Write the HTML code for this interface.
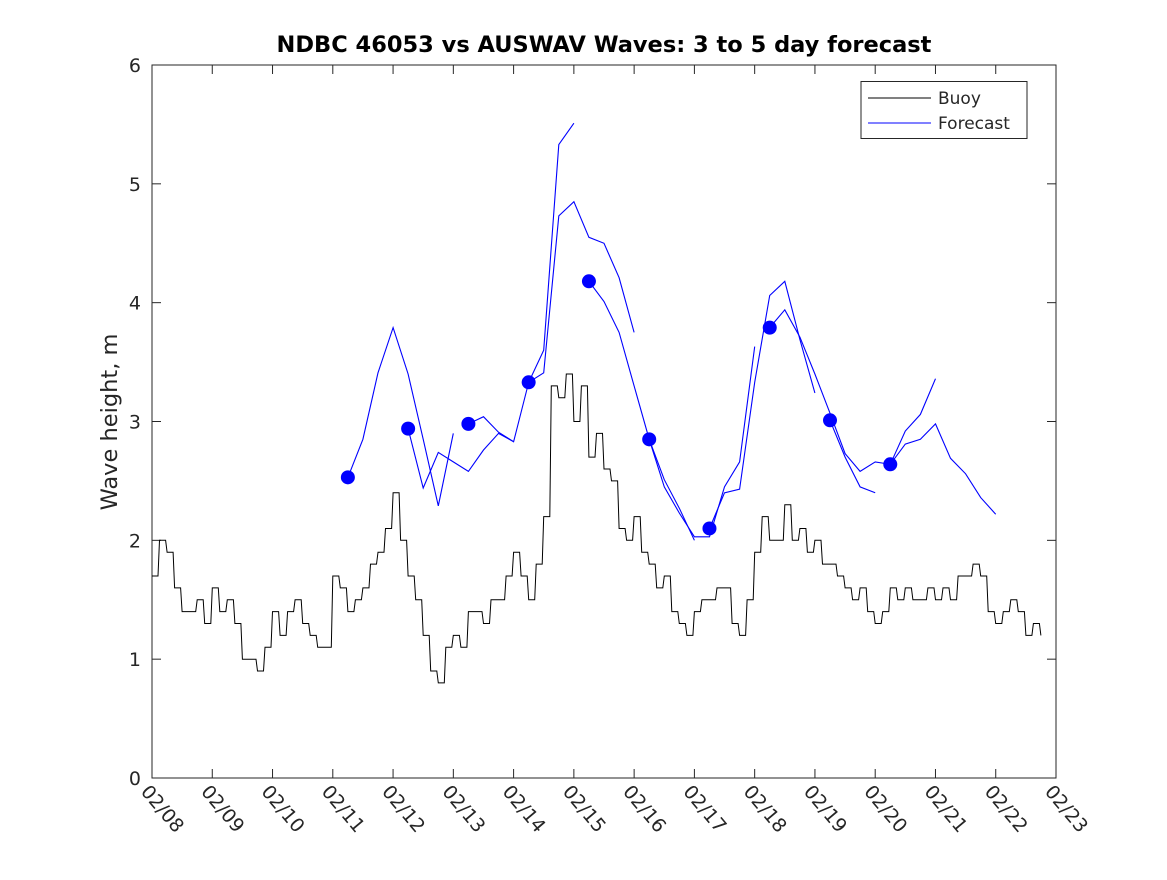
<!DOCTYPE html>
<html><head><meta charset="utf-8"><style>
html,body{margin:0;padding:0;background:#fff;}
svg text{font-family:"DejaVu Sans","Liberation Sans",sans-serif;fill:#262626;}
</style></head><body>
<svg id="chart" width="1167" height="875" viewBox="0 0 1167 875" xmlns="http://www.w3.org/2000/svg">
<rect x="0" y="0" width="1167" height="875" fill="#fff"/>
<text x="604" y="52" text-anchor="middle" font-size="22.5" font-weight="bold" style="fill:#000">NDBC 46053 vs AUSWAV Waves: 3 to 5 day forecast</text>
<rect x="152" y="65" width="904" height="713" fill="#fff" stroke="#262626" stroke-width="1"/>
<g id="yaxis"></g>
<g id="xaxis"></g>
<text transform="translate(117,422) rotate(-90)" text-anchor="middle" font-size="22.5">Wave height, m</text>
<g id="series"></g>
<g>
<rect x="861" y="81.5" width="166" height="57" fill="#fff" stroke="#262626" stroke-width="1"/>
<line x1="868" y1="98" x2="931" y2="98" stroke="#000" stroke-width="1"/>
<text x="938" y="104" font-size="17">Buoy</text>
<line x1="868" y1="123" x2="931" y2="123" stroke="#0000ff" stroke-width="1"/>
<text x="938" y="129" font-size="17">Forecast</text>
</g>
</svg>
<script>
const xTickLabels = ["02/08","02/09","02/10","02/11","02/12","02/13","02/14","02/15","02/16","02/17","02/18","02/19","02/20","02/21","02/22","02/23"];
const yTickLabels = ["0","1","2","3","4","5","6"];
const buoyStartDay = 8.0;
const buoyStep = 0.125;
const buoyValues = [1.7,2.0,1.9,1.6,1.4,1.4,1.5,1.3,1.6,1.4,1.5,1.3,1.0,1.0,0.9,1.1,1.4,1.2,1.4,1.5,1.3,1.2,1.1,1.1,1.7,1.6,1.4,1.5,1.6,1.8,1.9,2.1,2.4,2.0,1.7,1.5,1.2,0.9,0.8,1.1,1.2,1.1,1.4,1.4,1.3,1.5,1.5,1.7,1.9,1.7,1.5,1.8,2.2,3.3,3.2,3.4,3.0,3.3,2.7,2.9,2.6,2.5,2.1,2.0,2.2,1.9,1.8,1.6,1.7,1.4,1.3,1.2,1.4,1.5,1.5,1.6,1.6,1.3,1.2,1.5,1.9,2.2,2.0,2.0,2.3,2.0,2.1,1.9,2.0,1.8,1.8,1.7,1.6,1.5,1.6,1.4,1.3,1.4,1.6,1.5,1.6,1.5,1.5,1.6,1.5,1.6,1.5,1.7,1.7,1.8,1.7,1.4,1.3,1.4,1.5,1.4,1.2,1.3,1.2];
const fcStep = 0.25;
const fcStartDays = [11.25,12.25,13.25,14.25,15.25,16.25,17.25,18.25,19.25,20.25];
const fcSeg1 = [2.53,2.85,3.41,3.79,3.40,2.85,2.29,2.90];
const fcSeg2 = [2.94,2.44,2.74,2.66,2.58,2.76,2.90,2.83];
const fcSeg3 = [2.98,3.04,2.91,2.83,3.33,3.41,4.73,4.85,4.55,4.50,4.21,3.75];
const fcSeg4 = [3.33,3.60,5.33,5.51];
const fcSeg5 = [4.18,4.01,3.75,3.30,2.85,2.51,2.27,2.00];
const fcSeg6 = [2.85,2.45,2.23,2.03,2.03,2.45,2.66,3.63];
const fcSeg7 = [2.10,2.40,2.43,3.33,4.06,4.18,3.69,3.24];
const fcSeg8 = [3.79,3.94,3.71,3.40,3.07,2.73,2.58,2.66,2.64,2.81,2.85,2.98,2.69,2.56,2.36,2.22];
const fcSeg9 = [3.01,2.70,2.45,2.40];
const fcSeg10 = [2.64,2.92,3.06,3.36];
const dotValues = [2.53,2.94,2.98,3.33,4.18,2.85,2.10,3.79,3.01,2.64];

const NS = "http://www.w3.org/2000/svg";
const X0 = 152, X1 = 1056, Y0 = 778, Y1 = 65;
const dayMin = 8, dayMax = 23, yMin = 0, yMax = 6;
function xs(d){ return X0 + (d - dayMin) / (dayMax - dayMin) * (X1 - X0); }
function ys(v){ return Y0 - (v - yMin) / (yMax - yMin) * (Y0 - Y1); }
function mk(tag, attrs){ const e = document.createElementNS(NS, tag); for (const k in attrs) e.setAttribute(k, attrs[k]); return e; }

const yaxis = document.getElementById('yaxis');
yTickLabels.forEach((lab, i) => {
  const y = ys(i);
  const t1 = mk('line', {x1: X0, y1: y, x2: X0 + 9, y2: y, stroke: '#262626'});
  
  
  yaxis.appendChild(t1);
  const t2 = mk('line', {x1: X1, y1: y, x2: X1 - 9, y2: y, stroke: '#262626'});
  
  
  yaxis.appendChild(t2);
  const tx = mk('text', {x: X0 - 11, y: y + 7, 'text-anchor': 'end', 'font-size': '19'});
  tx.textContent = lab;
  
  
  yaxis.appendChild(tx);
});
const xaxis = document.getElementById('xaxis');
xTickLabels.forEach((lab, i) => {
  const x = xs(dayMin + i);
  const t1 = mk('line', {x1: x, y1: Y0, x2: x, y2: Y0 - 9, stroke: '#262626'});
  
  
  xaxis.appendChild(t1);
  const t2 = mk('line', {x1: x, y1: Y1, x2: x, y2: Y1 + 9, stroke: '#262626'});
  
  
  xaxis.appendChild(t2);
  const tx = mk('text', {transform: 'translate(' + (x - 12) + ',' + (Y0 + 14) + ') rotate(50)', 'font-size': '19'});
  tx.textContent = lab;
  
  
  xaxis.appendChild(tx);
});

const series = document.getElementById('series');
let d = '';
buoyValues.forEach((v, i) => {
  const x = xs(buoyStartDay + i * buoyStep).toFixed(1), y = ys(v).toFixed(1);
  if (i === 0) d += 'M' + x + ',' + y;
  else d += 'L' + (xs(buoyStartDay + i * buoyStep) - 1.5).toFixed(1) + ',' + ys(buoyValues[i-1]).toFixed(1) + 'L' + x + ',' + y;
});
const buoy = mk('path', {d: d, fill: 'none', stroke: '#000', 'stroke-width': '1'});


series.appendChild(buoy);

const segs = [fcSeg1, fcSeg2, fcSeg3, fcSeg4, fcSeg5, fcSeg6, fcSeg7, fcSeg8, fcSeg9, fcSeg10];
segs.forEach((seg, k) => {
  const pts = seg.map((v, i) => xs(fcStartDays[k] + i * fcStep).toFixed(1) + ',' + ys(v).toFixed(1)).join(' ');
  const pl = mk('polyline', {points: pts, fill: 'none', stroke: '#0000ff', 'stroke-width': '1.1'});
  
  
  series.appendChild(pl);
});
dotValues.forEach((v, k) => {
  const c = mk('circle', {cx: xs(fcStartDays[k]), cy: ys(v), r: 7, fill: '#0000ff'});
  
  
  series.appendChild(c);
});
</script>
</body></html>
